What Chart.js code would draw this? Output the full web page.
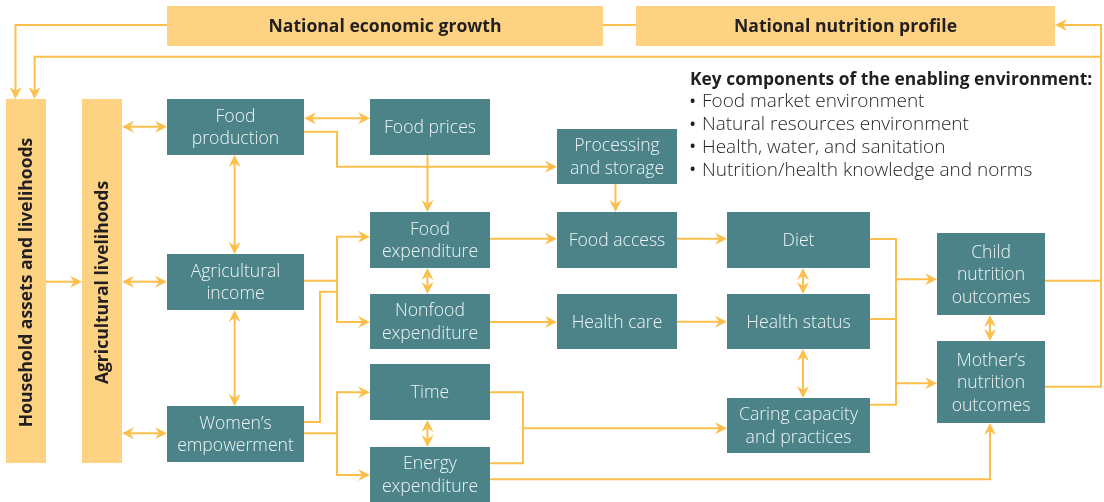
<!DOCTYPE html>
<html>
<head>
<meta charset="utf-8">
<script src="https://cdn.jsdelivr.net/npm/chart.js@4/dist/chart.umd.min.js"></script>
<style>
html,body{margin:0;padding:0;background:#fff;}
#wrap{width:1104px;height:502px;}
</style>
</head>
<body>
<div id="wrap"><canvas id="c" width="1104" height="502"></canvas></div>
<script>
// ---- Diagram content ----
const boxLabels = [
  ["Food","production"], ["Food prices"], ["Processing","and storage"],
  ["Agricultural","income"], ["Food","expenditure"], ["Nonfood","expenditure"],
  ["Women\u2019s","empowerment"], ["Time"], ["Energy","expenditure"],
  ["Food access"], ["Health care"], ["Diet"], ["Health status"],
  ["Caring capacity","and practices"], ["Child","nutrition","outcomes"],
  ["Mother\u2019s","nutrition","outcomes"]
];
// box extents in diagram units (left, top, right, bottom)
const boxLeft   = [167,370,557,167,370,370,167,370,370,557,557,727,727,727,937,937];
const boxTop    = [99, 99, 129,254,212,294,406,364,447,212,294,212,294,398,233,341];
const boxRight  = [304,490,677,304,490,490,304,490,490,677,677,870,870,870,1045,1045];
const boxBottom = [155,155,184,310,268,349,462,420,502,268,349,268,349,453,315,423];

const bandLabels = ["National economic growth","National nutrition profile"];
const bandLeft = [167,636], bandTop=[6,6], bandRight=[603,1055], bandBottom=[46,46];

const pillarLabels = ["Household assets and livelihoods","Agricultural livelihoods"];
const pillarLeft=[6,82], pillarTop=[99,99], pillarRight=[46,122], pillarBottom=[463,463];

const keyTitle = "Key components of the enabling environment:";
const keyItems = ["Food market environment","Natural resources environment",
                  "Health, water, and sanitation","Nutrition/health knowledge and norms"];

// connectors: polyline points, arrow at start / end
const links = [
  {p:[[167,25],[15.5,25],[15.5,99]], s:0, e:1},
  {p:[[603,25],[636,25]], s:0, e:0},
  {p:[[1045,280.7],[1101,280.7]], s:0, e:0},
  {p:[[1045,386.7],[1101,386.7],[1101,25],[1055,25]], s:0, e:1},
  {p:[[1101,56.7],[34.6,56.7],[34.6,99]], s:0, e:1},
  {p:[[46,281.7],[82,281.7]], s:0, e:1},
  {p:[[122,126.7],[167,126.7]], s:1, e:1},
  {p:[[122,281.7],[167,281.7]], s:1, e:1},
  {p:[[122,433.3],[167,433.3]], s:1, e:1},
  {p:[[304,118.3],[370,118.3]], s:1, e:1},
  {p:[[304,131.7],[337,131.7],[337,166.7],[557,166.7]], s:0, e:1},
  {p:[[427.5,155],[427.5,212]], s:0, e:1},
  {p:[[234.6,155],[234.6,254]], s:1, e:1},
  {p:[[234.6,310],[234.6,406]], s:1, e:1},
  {p:[[304,280.7],[337,280.7]], s:0, e:0},
  {p:[[370,236.7],[337,236.7],[337,322],[370,322]], s:1, e:1},
  {p:[[304,422],[320,422],[320,291.7],[337,291.7]], s:0, e:0},
  {p:[[427.5,268],[427.5,294]], s:1, e:1},
  {p:[[304,433.3],[337,433.3]], s:0, e:0},
  {p:[[370,392.3],[337,392.3],[337,475],[370,475]], s:1, e:1},
  {p:[[427.5,420],[427.5,447]], s:1, e:1},
  {p:[[490,392.3],[523,392.3],[523,463.3],[490,463.3]], s:0, e:0},
  {p:[[523,428.3],[727,428.3]], s:0, e:1},
  {p:[[490,479.3],[990,479.3],[990,423]], s:0, e:1},
  {p:[[615.5,184],[615.5,212]], s:0, e:1},
  {p:[[490,238.7],[557,238.7]], s:0, e:1},
  {p:[[490,322],[557,322]], s:0, e:1},
  {p:[[677,238.7],[727,238.7]], s:0, e:1},
  {p:[[677,321.7],[727,321.7]], s:0, e:1},
  {p:[[803,268],[803,294]], s:1, e:1},
  {p:[[803,349],[803,398]], s:1, e:1},
  {p:[[870,239],[896,239],[896,404.7],[870,404.7]], s:0, e:0},
  {p:[[870,319],[896,319]], s:0, e:0},
  {p:[[896,279.3],[937,279.3]], s:0, e:1},
  {p:[[896,383.3],[937,383.3]], s:0, e:1},
  {p:[[990,315],[990,341]], s:1, e:1}
];

// ---- styles ----
const TEAL = "#4b8389", BAND = "#fdd283", LINE = "#fcbf4c", DARK = "#231f20", BOXTXT = "#eef5f5";
const FONT = "'Open Sans', 'Noto Sans', sans-serif";

function arrowHead(ctx, tx, ty, dx, dy) {
  const L = 12, W = 6, N = 4;
  const nx = -dy, ny = dx;
  ctx.beginPath();
  ctx.moveTo(tx, ty);
  ctx.lineTo(tx - L*dx + W*nx, ty - L*dy + W*ny);
  ctx.lineTo(tx - (L-N)*dx, ty - (L-N)*dy);
  ctx.lineTo(tx - L*dx - W*nx, ty - L*dy - W*ny);
  ctx.closePath();
  ctx.fill();
}

const diagramPlugin = {
  id: 'diagram',
  afterDatasetsDraw(chart) {
    const ctx = chart.ctx, sx = chart.scales.x, sy = chart.scales.y;
    const X = v => sx.getPixelForValue(v), Y = v => sy.getPixelForValue(v);
    ctx.save();
    // bands
    for (let i = 0; i < bandLabels.length; i++) {
      const l = X(bandLeft[i]), t = Y(bandTop[i]), r = X(bandRight[i]), b = Y(bandBottom[i]);
      ctx.fillStyle = BAND; ctx.fillRect(l, t, r-l, b-t);
      ctx.fillStyle = DARK; ctx.font = "bold 17.6px " + FONT;
      ctx.textAlign = "center"; ctx.textBaseline = "middle";
      ctx.fillText(bandLabels[i], (l+r)/2, (t+b)/2 + 1);
    }
    // pillars
    for (let i = 0; i < pillarLabels.length; i++) {
      const l = X(pillarLeft[i]), t = Y(pillarTop[i]), r = X(pillarRight[i]), b = Y(pillarBottom[i]);
      ctx.fillStyle = BAND; ctx.fillRect(l, t, r-l, b-t);
      ctx.save();
      ctx.translate((l+r)/2 + 1, (t+b)/2 + 1.5);
      ctx.rotate(-Math.PI/2);
      ctx.fillStyle = DARK; ctx.font = "bold 17.5px " + FONT;
      ctx.textAlign = "center"; ctx.textBaseline = "middle";
      ctx.fillText(pillarLabels[i], 0, 0);
      ctx.restore();
    }
    // connectors
    ctx.strokeStyle = LINE; ctx.fillStyle = LINE; ctx.lineWidth = 2;
    ctx.lineJoin = "miter"; ctx.lineCap = "butt";
    for (const lk of links) {
      const pts = lk.p.map(q => [X(q[0]), Y(q[1])]);
      const n = pts.length;
      const dir = (a, b) => { const dx = b[0]-a[0], dy = b[1]-a[1], d = Math.hypot(dx, dy); return [dx/d, dy/d]; };
      const draw = pts.map(q => q.slice());
      if (lk.s) { const d = dir(pts[1], pts[0]); draw[0] = [pts[0][0]-d[0]*8, pts[0][1]-d[1]*8]; }
      if (lk.e) { const d = dir(pts[n-2], pts[n-1]); draw[n-1] = [pts[n-1][0]-d[0]*8, pts[n-1][1]-d[1]*8]; }
      ctx.beginPath();
      ctx.moveTo(draw[0][0], draw[0][1]);
      for (let k = 1; k < n; k++) ctx.lineTo(draw[k][0], draw[k][1]);
      ctx.stroke();
      if (lk.s) { const d = dir(pts[1], pts[0]); arrowHead(ctx, pts[0][0], pts[0][1], d[0], d[1]); }
      if (lk.e) { const d = dir(pts[n-2], pts[n-1]); arrowHead(ctx, pts[n-1][0], pts[n-1][1], d[0], d[1]); }
    }
    // boxes
    for (let i = 0; i < boxLabels.length; i++) {
      const l = X(boxLeft[i]), t = Y(boxTop[i]), r = X(boxRight[i]), b = Y(boxBottom[i]);
      ctx.fillStyle = TEAL; ctx.fillRect(l, t, r-l, b-t);
      ctx.fillStyle = BOXTXT; ctx.font = "300 17.6px " + FONT;
      ctx.textAlign = "center"; ctx.textBaseline = "middle";
      const lines = boxLabels[i], lh = 22.5;
      const cy = (t+b)/2 - (lines.length-1)*lh/2;
      lines.forEach((s, k) => ctx.fillText(s, (l+r)/2, cy + k*lh + 1));
    }
    // key components
    ctx.fillStyle = DARK; ctx.textAlign = "left"; ctx.textBaseline = "middle";
    ctx.font = "bold 17.4px " + FONT;
    ctx.fillText(keyTitle, X(690), Y(80));
    keyItems.forEach((s, k) => {
      const yy = Y(102 + k*22.7);
      ctx.font = "bold 14px " + FONT;
      ctx.fillText("\u2022", X(690), yy);
      ctx.font = "300 19px " + FONT;
      ctx.fillText(s, X(702), yy);
    });
    ctx.restore();
  }
};

const centers = boxLabels.map((_, i) => ({x:(boxLeft[i]+boxRight[i])/2, y:(boxTop[i]+boxBottom[i])/2}));

new Chart(document.getElementById('c'), {
  type: 'scatter',
  data: { datasets: [{ data: centers, pointRadius: 0, pointHoverRadius: 0 }] },
  options: {
    responsive: false, animation: false, events: [],
    layout: { padding: 0 },
    plugins: { legend: {display:false}, tooltip: {enabled:false} },
    scales: {
      x: { type:'linear', min:0, max:1104, display:false },
      y: { type:'linear', min:0, max:502, reverse:true, display:false }
    }
  },
  plugins: [diagramPlugin]
});
</script>
</body>
</html>
